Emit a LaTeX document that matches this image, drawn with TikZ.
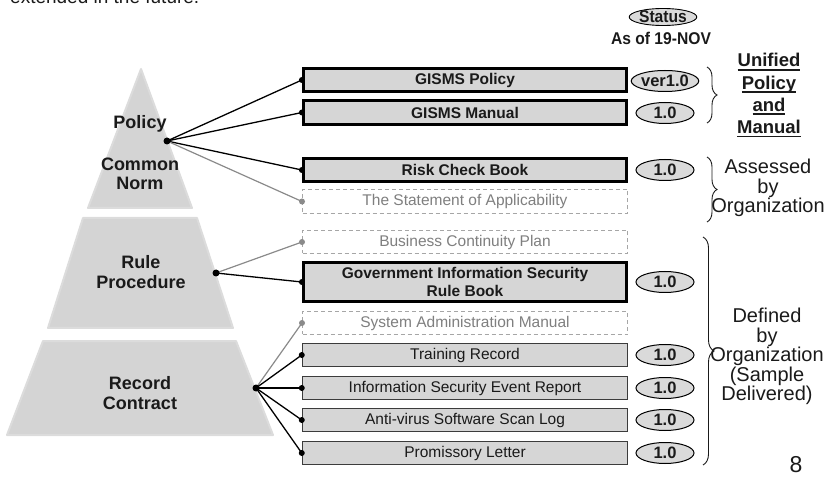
\documentclass[tikz,border=0pt]{standalone}
\usepackage{fontspec}
\setmainfont{Liberation Sans}
\usetikzlibrary{decorations.pathreplacing,shapes.geometric}
\definecolor{pyr}{HTML}{D4D4D4}
\definecolor{pyredge}{HTML}{DCDCDC}
\definecolor{boxfill}{HTML}{D6D6D6}
\definecolor{ellfill}{HTML}{DADADA}
\definecolor{dashgray}{HTML}{A6A6A6}
\definecolor{txtgray}{HTML}{7F7F7F}
\definecolor{linkgray}{HTML}{8A8A8A}
\definecolor{thinedge}{HTML}{3C3C3C}
\definecolor{ink}{HTML}{1A1A1A}
\newcommand\myuline[1]{\setbox0\hbox{#1}\rlap{\rule[-3.6pt]{\wd0}{1.8pt}}\box0}
\newcommand\narrowbold[1]{\scalebox{0.92}[1]{\bfseries #1}}
\begin{document}
\begin{tikzpicture}[x=1pt,y=-1pt,
  pyrpart/.style={fill=pyr,draw=pyredge,line width=2pt,line join=round},
  pyrlabel/.style={font=\fontsize{18}{19.5}\selectfont\bfseries,text=ink,align=center,inner sep=0pt},
  thickbox/.style={draw=black,line width=3.2pt,fill=boxfill,minimum width=323pt,inner sep=0pt,
     font=\fontsize{15.5}{18}\selectfont\bfseries,text=ink,align=center},
  thinbox/.style={draw=thinedge,line width=1.5pt,fill=boxfill,minimum width=325pt,inner sep=0pt,
     font=\fontsize{15.5}{18}\selectfont,text=ink,align=center},
  dashbox/.style={draw=dashgray,dashed,dash pattern=on 4pt off 3pt,line width=1pt,fill=white,minimum width=325pt,inner sep=0pt,
     font=\fontsize{15.5}{18}\selectfont,text=txtgray,align=center},
  ver/.style={ellipse,draw=black,line width=1pt,fill=ellfill,minimum width=58pt,minimum height=21pt,inner sep=0pt,
     font=\fontsize{16.5}{18}\selectfont\bfseries,text=ink},
  link/.style={draw=black,line width=1.3pt},
  glink/.style={draw=linkgray,line width=1.2pt},
  bracestyle/.style={draw=ink,line width=0.9pt,decorate,decoration={brace,amplitude=10pt}},
  sidelabel/.style={font=\fontsize{20}{19.6}\selectfont,text=ink,align=center,inner sep=0pt},
]
\useasboundingbox (0,0) rectangle (830,478);

% cut-off text at top (as in the reference)
\node[anchor=base west,inner sep=0pt,font=\fontsize{19}{21}\selectfont,text=ink] (toptext) at (10,4) {extended in the future.};

% pyramid
\path[pyrpart] (141,69) -- (192,208) -- (88,208) -- cycle;
\path[pyrpart] (83,218) -- (197,218) -- (233,328) -- (48,328) -- cycle;
\path[pyrpart] (43,341) -- (236,341) -- (273,435) -- (7,435) -- cycle;

\node[pyrlabel] (lpolicy) at (140,124) {Policy};
\node[pyrlabel] (lnorm) at (140,174) {Common\\Norm};
\node[pyrlabel] (lrule) at (141,272) {Rule\\Procedure};
\node[pyrlabel] (lrecord) at (140,393) {Record\\Contract};

\coordinate (psrc) at (167,141);
\coordinate (rsrc) at (216,273);
\coordinate (csrc) at (256,388);

% boxes
\node[thickbox,minimum height=23pt] (pol) at (465,80) {GISMS Policy};
\node[thickbox,minimum height=24pt] (man) at (465,112.5) {GISMS Manual};
\node[thickbox,minimum height=23pt] (risk) at (465,170) {Risk Check Book};
\node[dashbox,minimum height=24pt] (soa) at (465,201.5) {The Statement of Applicability};
\node[dashbox,minimum height=23pt] (bcp) at (465,242) {Business Continuity Plan};
\node[thickbox,minimum height=39pt] (gov) at (465,282) {Government Information Security\\Rule Book};
\node[dashbox,minimum height=23pt] (sam) at (465,323) {System Administration Manual};
\node[thinbox,minimum height=23pt] (tr) at (465,355) {Training Record};
\node[thinbox,minimum height=23pt] (ev) at (465,388) {Information Security Event Report};
\node[thinbox,minimum height=23pt] (av) at (465,420) {Anti-virus Software Scan Log};
\node[thinbox,minimum height=23pt] (pl) at (465,453) {Promissory Letter};

% connectors
\foreach \t in {pol,man,risk} {\path[link] (psrc) -- (\t.west);}
\path[glink] (psrc) -- (soa.west);
\path[glink] (rsrc) -- (bcp.west);
\path[link] (rsrc) -- (gov.west);
\path[glink] (csrc) -- (sam.west);
\foreach \t in {tr,ev,av,pl} {\path[link] (csrc) -- (\t.west);}

% dots
\foreach \t in {pol,man,risk,gov,tr,ev,av,pl} {\fill[black] (\t.west) circle (3pt);}
\foreach \t in {soa,bcp,sam} {\fill[linkgray] (\t.west) circle (3pt);}
\fill[black] (psrc) circle (3.5pt);
\fill[black] (rsrc) circle (3.5pt);
\fill[black] (csrc) circle (3.5pt);

% status
\node[ellipse,draw=black,line width=0.9pt,fill=ellfill,minimum width=54pt,minimum height=17pt,inner sep=0pt,
  font=\fontsize{17}{18}\selectfont,text=ink] (status) at (663,17) {\narrowbold{Status}};
\node[inner sep=0pt,font=\fontsize{17}{18}\selectfont,text=ink] (asof) at (661,38) {\narrowbold{As of 19-NOV}};

% version ellipses
\node[ver] (vpol) at (665,81) {ver1.0};
\node[ver] (vman) at (665,113) {1.0};
\node[ver] (vrisk) at (665,170) {1.0};
\node[ver] (vgov) at (665,282) {1.0};
\node[ver] (vtr) at (665,355) {1.0};
\node[ver] (vev) at (665,388) {1.0};
\node[ver] (vav) at (665,420) {1.0};
\node[ver] (vpl) at (665,453) {1.0};

% braces
\coordinate (b1a) at (707,67); \coordinate (b1b) at (707,123);
\coordinate (b2a) at (707,157); \coordinate (b2b) at (707,222);
\coordinate (b3a) at (703,237); \coordinate (b3b) at (703,465);
\path[bracestyle] (b1a) -- (b1b);
\path[bracestyle] (b2a) -- (b2b);
\path[bracestyle,decoration={brace,amplitude=11pt}] (b3a) -- (b3b);

% side labels
\node[inner sep=0pt,align=center,font=\fontsize{18.5}{22.3}\selectfont\bfseries,text=ink] (unified) at (769,95.5)
  {\myuline{Unified}\\\myuline{Policy}\\\myuline{and}\\\myuline{Manual}};
\node[sidelabel] (assessed) at (768,188) {Assessed\\by\\Organization};
\node[sidelabel] (defined) at (767,356.5) {Defined\\by\\Organization\\(Sample\\Delivered)};

\node[inner sep=0pt,font=\fontsize{23}{24}\selectfont,text=ink] (pagenum) at (796,465) {8};
\end{tikzpicture}
\end{document}
